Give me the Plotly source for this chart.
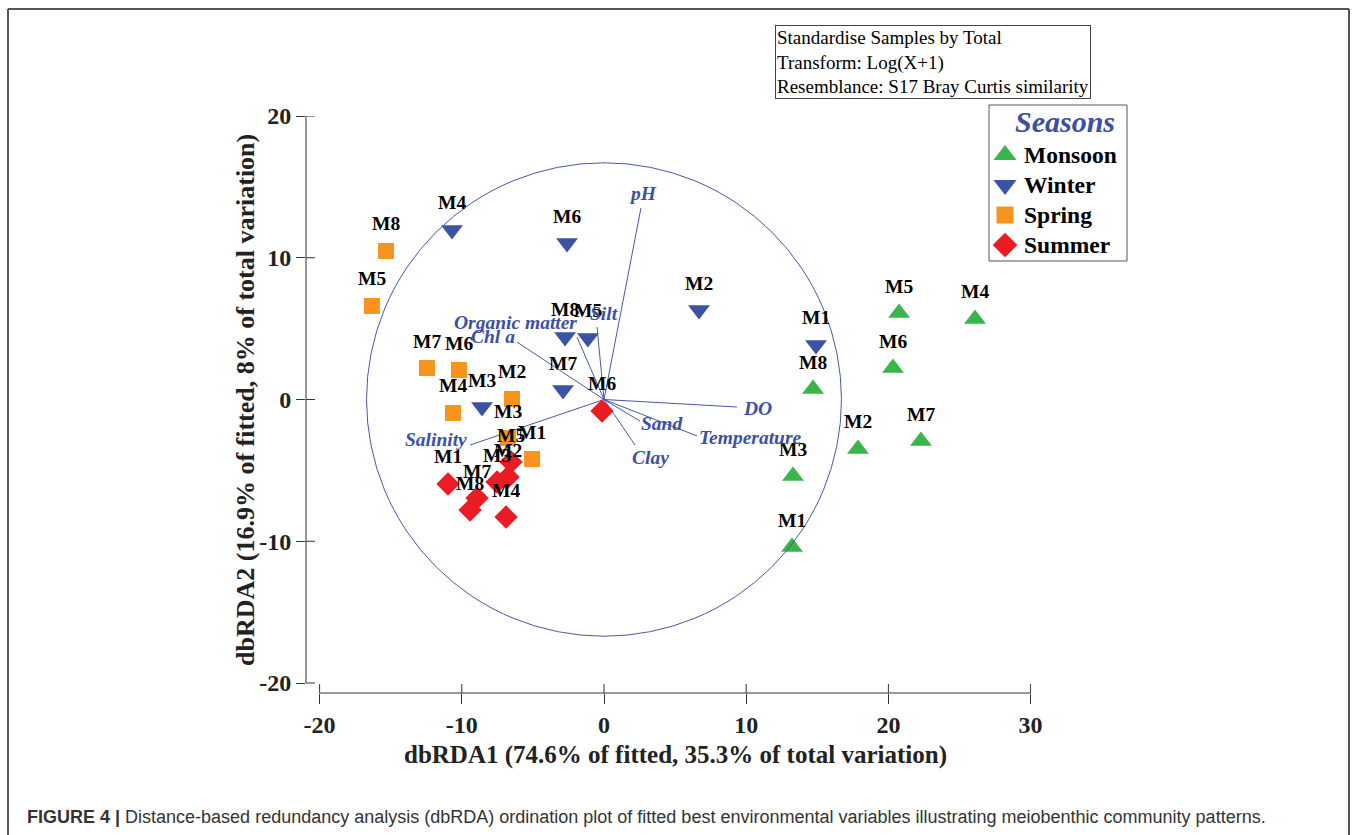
import plotly.graph_objects as go

# ---- sample scores on the first two dbRDA axes ----
sites = ["M1", "M2", "M3", "M4", "M5", "M6", "M7", "M8"]

monsoon_x = [13.22, 17.86, 13.29, 26.09, 20.75, 20.32, 22.29, 14.70]
monsoon_y = [-10.41, -3.49, -5.40, 5.68, 6.10, 2.22, -2.93, 0.74]

winter_x = [14.91, 6.68, -8.58, -10.69, -1.13, -2.60, -2.88, -2.74]
winter_y = [3.85, 6.31, -0.53, 11.96, 4.34, 11.04, 0.67, 4.41]

spring_x = [-5.06, -6.47, -6.75, -10.62, -16.32, -10.20, -12.45, -15.33]
spring_y = [-4.20, 0.04, -2.72, -0.95, 6.60, 2.08, 2.22, 10.48]

summer_x = [-10.97, -6.75, -7.52, -6.89, -6.54, -0.14, -8.93, -9.42]
summer_y = [-5.96, -5.47, -5.82, -8.29, -4.41, -0.81, -6.95, -7.80]

# ---- environmental vectors (end points) ----
env_names = ["pH", "DO", "Temperature", "Sand", "Clay", "Silt",
             "Organic matter", "Chl a", "Salinity"]
env_x = [2.60, 9.35, 6.54, 2.53, 2.18, -0.49, -1.90, -6.12, -9.42]
env_y = [13.51, -0.53, -2.57, -1.52, -3.21, 5.11, 4.41, 4.05, -3.21]

circle_radius = 16.7

x_ticks = [-20, -10, 0, 10, 20, 30]
y_ticks = [-20, -10, 0, 10, 20]

# ---- page geometry (pixels) ----
W, H = 1357, 835
L, R, T, B = 306, 1031, 116, 693
PW, PH_ = R - L, B - T
X0_PX, X_SCALE = 604, 14.22     # pixel of x=0, pixels per unit
Y0_PX, Y_SCALE = 399.5, 14.175  # pixel of y=0, pixels per unit


def px(p):
    return (p - L) / PW


def py(p):
    return (B - p) / PH_


def data_x(p):
    return (p - X0_PX) / X_SCALE


def data_y(p):
    return (Y0_PX - p) / Y_SCALE


SERIF = "Liberation Serif"
BLUE_TXT = "#3b4fa6"
LINE_BLUE = "#4658ac"

seasons = [
    ("Monsoon", monsoon_x, monsoon_y, "triangle-up", "#39b54a", 19),
    ("Winter", winter_x, winter_y, "triangle-down", "#3a53a4", 19),
    ("Spring", spring_x, spring_y, "square", "#f7941d", 16),
    ("Summer", summer_x, summer_y, "diamond", "#ed1c24", 18),
]

fig = go.Figure()

# environmental vectors from the origin
vx, vy = [], []
for ex, ey in zip(env_x, env_y):
    vx += [0, ex, None]
    vy += [0, ey, None]
fig.add_trace(go.Scatter(x=vx, y=vy, mode="lines",
                         line=dict(color=LINE_BLUE, width=1),
                         showlegend=False, hoverinfo="skip"))

for name, xs, ys, sym, col, size in seasons:
    fig.add_trace(go.Scatter(
        x=xs, y=ys, mode="markers", name=name, showlegend=False,
        marker=dict(symbol=sym, color=col, size=size, line=dict(width=0)),
        text=sites,
    ))

annotations = []

# site labels above each marker
for name, xs, ys, sym, col, size in seasons:
    for s, xv, yv in zip(sites, xs, ys):
        annotations.append(dict(
            x=xv, y=yv, xref="x", yref="y", text=s, showarrow=False,
            yshift=27, xanchor="center", yanchor="middle",
            font=dict(family=SERIF, size=19.5, color="black", weight="bold"),
        ))

# vector labels: (xanchor, xshift, yshift)
env_label_pos = {
    "pH": ("center", 2, 15),
    "DO": ("left", 4, -1),
    "Temperature": ("left", 0, -2),
    "Sand": ("left", -1, -2),
    "Clay": ("left", -5, -12),
    "Silt": ("center", 7, 14),
    "Organic matter": ("right", 2, 14),
    "Chl a": ("right", 0, 6),
    "Salinity": ("right", -1, 6),
}
for nm, ex, ey in zip(env_names, env_x, env_y):
    xa, xs_, ys_ = env_label_pos[nm]
    annotations.append(dict(
        x=ex, y=ey, xref="x", yref="y", text=nm, showarrow=False,
        xanchor=xa, yanchor="middle", xshift=xs_, yshift=ys_,
        font=dict(family=SERIF, size=19.5, color=BLUE_TXT,
                  style="italic", weight="bold"),
    ))

# ---- legend box (Seasons) ----
legend_rows = [155, 185, 215, 245]
for (name, xs, ys, sym, col, size), row in zip(seasons, legend_rows):
    fig.add_trace(go.Scatter(
        x=[data_x(1005)], y=[data_y(row)], mode="markers", showlegend=False,
        marker=dict(symbol=sym, color=col, size=size + 1, line=dict(width=0)),
        hoverinfo="skip",
    ))
    annotations.append(dict(
        x=px(1022), y=py(row), xref="paper", yref="paper", text=name,
        showarrow=False, xanchor="left", yanchor="middle",
        font=dict(family=SERIF, size=23.5, color="black", weight="bold"),
    ))
annotations.append(dict(
    x=px(1065), y=py(121), xref="paper", yref="paper", text="Seasons",
    showarrow=False, xanchor="center", yanchor="middle",
    font=dict(family=SERIF, size=30, color=BLUE_TXT,
              style="italic", weight="bold"),
))

# axis titles
annotations.append(dict(
    x=px(675), y=py(755), xref="paper", yref="paper",
    text="dbRDA1 (74.6% of fitted, 35.3% of total variation)",
    showarrow=False, xanchor="center", yanchor="middle",
    font=dict(family=SERIF, size=25, color="#222", weight="bold"),
))
annotations.append(dict(
    x=px(245), y=py(400), xref="paper", yref="paper",
    text="dbRDA2 (16.9% of fitted, 8% of total variation)",
    showarrow=False, xanchor="center", yanchor="middle", textangle=-90,
    font=dict(family=SERIF, size=26, color="#222", weight="bold"),
))

# analysis settings box
annotations.append(dict(
    x=px(775), y=py(25), xref="paper", yref="paper",
    text="Standardise Samples by Total<br>Transform: Log(X+1)<br>"
         "Resemblance: S17 Bray Curtis similarity",
    showarrow=False, xanchor="left", yanchor="top", align="left",
    bordercolor="#444", borderwidth=1, borderpad=1, bgcolor="white",
    font=dict(family=SERIF, size=19, color="black"),
))

# figure caption
annotations.append(dict(
    x=px(25), y=py(817), xref="paper", yref="paper",
    text="<b>FIGURE 4 |</b> Distance-based redundancy analysis (dbRDA) ordination "
         "plot of fitted best environmental variables illustrating meiobenthic "
         "community patterns.",
    showarrow=False, xanchor="left", yanchor="middle", align="left",
    font=dict(family="Liberation Sans", size=18, color="#333"),
))

shapes = []
# legend frame
shapes.append(dict(type="rect", xref="paper", yref="paper",
                   x0=px(989), x1=px(1127), y0=py(105), y1=py(261),
                   line=dict(color="#555", width=1), fillcolor="white",
                   layer="below"))
# correlation circle
shapes.append(dict(type="circle", xref="x", yref="y",
                   x0=-circle_radius, x1=circle_radius,
                   y0=-circle_radius, y1=circle_radius,
                   line=dict(color=LINE_BLUE, width=1)))
# axis lines
shapes.append(dict(type="line", xref="paper", yref="y", x0=0, x1=0,
                   y0=min(y_ticks), y1=max(y_ticks),
                   line=dict(color="#333", width=1)))
shapes.append(dict(type="line", xref="x", yref="paper", x0=min(x_ticks),
                   x1=max(x_ticks), y0=0, y1=0,
                   line=dict(color="#333", width=1)))
# inner halves of the crossing tick marks
for t in x_ticks:
    shapes.append(dict(type="line", xref="x", yref="paper", x0=t, x1=t,
                       y0=0, y1=9 / PH_, line=dict(color="#333", width=1)))
for t in y_ticks:
    shapes.append(dict(type="line", xref="paper", yref="y", x0=0, x1=9 / PW,
                       y0=t, y1=t, line=dict(color="#333", width=1)))
# outer frame
frame = dict(color="#555", width=2)
shapes.append(dict(type="line", xref="paper", yref="paper",
                   x0=px(8), x1=px(1349), y0=py(9), y1=py(9), line=frame))
shapes.append(dict(type="line", xref="paper", yref="paper",
                   x0=px(8), x1=px(8), y0=py(9), y1=py(840), line=frame))
shapes.append(dict(type="line", xref="paper", yref="paper",
                   x0=px(1349), x1=px(1349), y0=py(9), y1=py(840), line=frame))

fig.update_layout(
    width=W, height=H,
    margin=dict(l=L, r=W - R, t=T, b=H - B, pad=0),
    paper_bgcolor="white", plot_bgcolor="white",
    showlegend=False,
    annotations=annotations,
    shapes=shapes,
)

tick_font = dict(family=SERIF, size=24, color="#222", weight="bold")
fig.update_xaxes(
    range=[data_x(L), data_x(R)], tickvals=x_ticks,
    ticktext=[str(t) for t in x_ticks],
    ticks="outside", ticklen=10, tickcolor="#333", tickwidth=1,
    showline=False, showgrid=False, zeroline=False, tickfont=tick_font,
)
fig.update_yaxes(
    range=[data_y(B), data_y(T)], tickvals=y_ticks,
    ticktext=[str(t) for t in y_ticks],
    ticks="outside", ticklen=9, tickcolor="#333", tickwidth=1,
    showline=False, showgrid=False, zeroline=False, tickfont=tick_font,
)

fig.write_html("out.html")
